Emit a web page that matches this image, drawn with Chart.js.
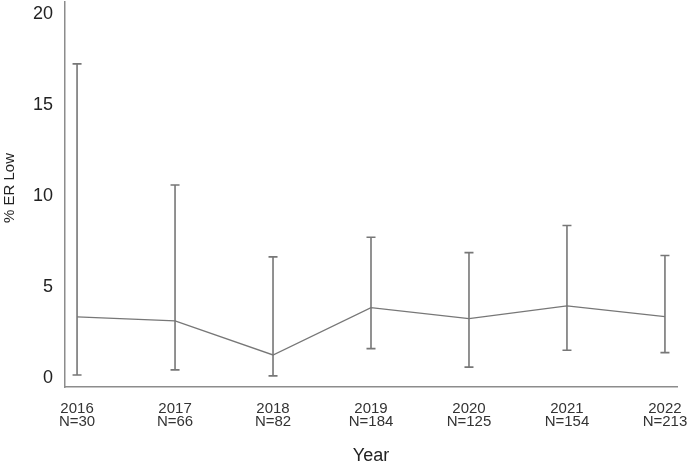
<!DOCTYPE html>
<html>
<head>
<meta charset="utf-8">
<script src="https://cdn.jsdelivr.net/npm/chart.js@4/dist/chart.umd.min.js"></script>
<style>
html,body{margin:0;padding:0;background:#fff;}
#wrap{width:688px;height:465px;position:relative;}
</style>
</head>
<body>
<div id="wrap"><canvas id="c" width="688" height="465"></canvas></div>
<script>
const years = [2016, 2017, 2018, 2019, 2020, 2021, 2022];
const counts = [30, 66, 82, 184, 125, 154, 213];
const pctLow = [3.35, 3.13, 1.26, 3.86, 3.26, 3.96, 3.37];
const ciLower = [0.16, 0.44, 0.11, 1.61, 0.59, 1.52, 1.39];
const ciUpper = [17.25, 10.6, 6.65, 7.73, 6.88, 8.37, 6.72];
const yTicks = [0, 5, 10, 15, 20];
const yTitle = '% ER Low';

const errorBars = {
  id: 'errorBars',
  afterDatasetsDraw(chart) {
    const ctx = chart.ctx, xs = chart.scales.x, ys = chart.scales.y;
    ctx.save();
    ctx.strokeStyle = '#777';
    ctx.lineWidth = 1.6;
    years.forEach((yr, i) => {
      const x = xs.getPixelForValue(yr);
      const yl = ys.getPixelForValue(ciLower[i]);
      const yu = ys.getPixelForValue(ciUpper[i]);
      ctx.beginPath();
      ctx.moveTo(x, yl); ctx.lineTo(x, yu);
      ctx.moveTo(x - 4.5, yl); ctx.lineTo(x + 4.5, yl);
      ctx.moveTo(x - 4.5, yu); ctx.lineTo(x + 4.5, yu);
      ctx.stroke();
    });
    ctx.restore();
  }
};

const yTitlePlugin = {
  id: 'yTitlePlugin',
  afterDraw(chart) {
    const ctx = chart.ctx;
    ctx.save();
    ctx.translate(9.5, 188);
    ctx.rotate(-Math.PI / 2);
    ctx.fillStyle = '#222';
    ctx.font = '15px "Liberation Sans", Arial';
    ctx.textAlign = 'center';
    ctx.textBaseline = 'middle';
    ctx.fillText(yTitle, 0, 0);
    ctx.restore();
  }
};

new Chart(document.getElementById('c'), {
  type: 'line',
  data: {
    datasets: [{
      data: years.map((y, i) => ({x: y, y: pctLow[i]})),
      borderColor: '#777',
      borderWidth: 1.3,
      pointRadius: 0,
      tension: 0,
      fill: false
    }]
  },
  options: {
    responsive: false,
    animation: false,
    layout: {padding: {top: 2, right: 11, left: 0, bottom: 0}},
    plugins: {legend: {display: false}, tooltip: {enabled: false}},
    scales: {
      x: {
        type: 'linear',
        min: 2015.877,
        max: 2022.123,
        grid: {display: false, drawTicks: false},
        border: {display: true, color: '#8c8c8c', width: 1.5},
        afterBuildTicks: s => { s.ticks = years.map(v => ({value: v})); },
        afterFit: s => { s.height = 78; s.paddingLeft = 0; s.paddingRight = 0; },
        ticks: {
          color: '#333',
          font: {family: 'Liberation Sans, Arial', size: 15, lineHeight: 0.9},
          padding: 15,
          maxRotation: 0,
          autoSkip: false,
          callback: (v) => { const i = years.indexOf(v); return [String(v), 'N=' + counts[i]]; }
        },
        title: {
          display: true,
          text: 'Year',
          color: '#222',
          font: {family: 'Liberation Sans, Arial', size: 18, lineHeight: 1},
          padding: {top: 4, bottom: 0}
        }
      },
      y: {
        min: -0.5,
        max: 20.65,
        grid: {display: false, drawTicks: false},
        border: {display: true, color: '#8c8c8c', width: 1.5},
        afterBuildTicks: s => { s.ticks = yTicks.map(v => ({value: v})); },
        afterFit: s => { s.width = 65; s.paddingTop = 0; s.paddingBottom = 0; },
        ticks: {
          color: '#222',
          font: {family: 'Liberation Sans, Arial', size: 18},
          padding: 12
        },
        title: {display: false}
      }
    }
  },
  plugins: [errorBars, yTitlePlugin]
});
</script>
</body>
</html>
